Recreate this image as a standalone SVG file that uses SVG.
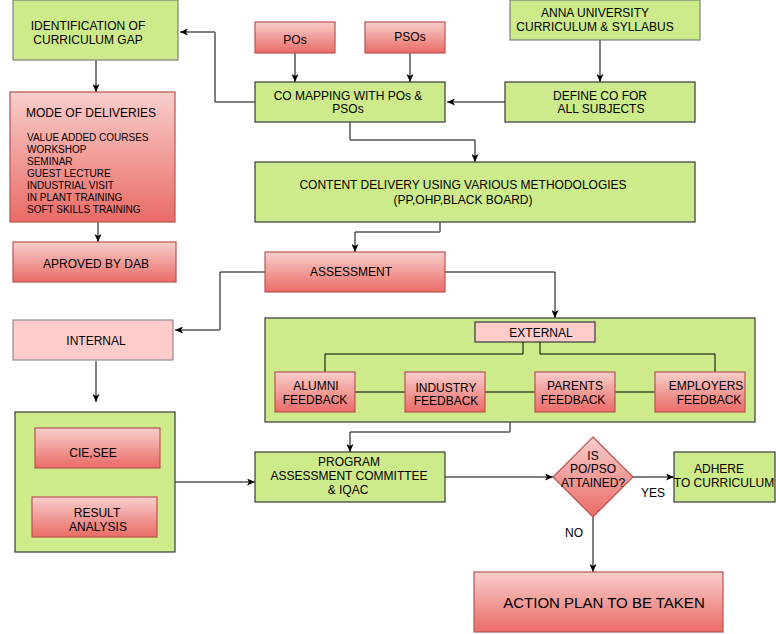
<svg xmlns="http://www.w3.org/2000/svg" width="776" height="634" viewBox="0 0 776 634">
<defs>
<linearGradient id="red" x1="0" y1="0" x2="0" y2="1">
<stop offset="0" stop-color="#f8cecc"/>
<stop offset="1" stop-color="#ea6b66"/>
</linearGradient>
<marker id="arr" viewBox="0 0 8 7" refX="8" refY="3.5" markerWidth="8" markerHeight="7" markerUnits="userSpaceOnUse" orient="auto">
<path d="M0,0 L8,3.5 L0,7 L2,3.5 z" fill="#000"/>
</marker>
</defs>
<style>
.g{fill:#cdeb8b;stroke:#36393d;stroke-width:1.2}
.gl{fill:#cdeb8b;stroke:#808080;stroke-width:1.2}
.r{fill:url(#red);stroke:#b85450;stroke-width:1.2}
.p{fill:#ffcccc;stroke:#36393d;stroke-width:1.2}
.pl{fill:#ffcccc;stroke:#8c8c8c;stroke-width:1.2}
text{font-family:"Liberation Sans",Arial,sans-serif;font-size:12px;fill:#000;text-anchor:middle}
.s{font-size:10px;text-anchor:start}
.t{text-anchor:start}
.big{font-size:15px}
.k{fill:none;stroke:#000;stroke-width:1}
.h{fill:none;stroke:#808080;stroke-width:2}
</style>
<g id="connectors">
<path class="h" d="M255,102 H215"/><path class="k" d="M215,102 V32"/><path class="h" d="M215,32 H180" marker-end="url(#arr)"/>
<path class="k" d="M96,60 V92" marker-end="url(#arr)"/>
<path class="k" d="M98,222 V242" stroke-width="2" marker-end="url(#arr)"/>
<path class="k" d="M295,53 V82" marker-end="url(#arr)"/>
<path class="k" d="M410,53 V82" marker-end="url(#arr)"/>
<path class="k" d="M600,40 V82" marker-end="url(#arr)"/>
<path class="h" d="M505,102 H447" marker-end="url(#arr)"/>
<path class="k" d="M350,122 V140"/><path class="h" d="M350,140 H475"/><path class="k" d="M475,140 V162" marker-end="url(#arr)"/>
<path class="k" d="M440,222 V232"/><path class="h" d="M440,232 H355"/><path class="k" d="M355,232 V252" marker-end="url(#arr)"/>
<path class="h" d="M445,272 H555"/><path class="k" d="M555,272 V318" marker-end="url(#arr)"/>
<path class="h" d="M265,272 H220"/><path class="k" d="M220,272 V330"/><path class="h" d="M220,330 H175" marker-end="url(#arr)"/>
<path class="k" d="M96,361 V402" marker-end="url(#arr)"/>
<path class="h" d="M175,482 H255" marker-end="url(#arr)"/>
<path class="k" d="M510,422 V432"/><path class="h" d="M510,432 H350"/><path class="k" d="M350,432 V452" marker-end="url(#arr)"/>
<path class="h" d="M445,477 H553" marker-end="url(#arr)"/>
<path class="h" d="M633,477 H674" marker-end="url(#arr)"/>
<path class="k" d="M593,517 V572" marker-end="url(#arr)"/>
</g>
<g id="identification"><rect class="gl" x="13" y="0" width="165" height="60"/><text x="88" y="30">IDENTIFICATION OF</text><text x="88" y="44">CURRICULUM GAP</text></g>
<g id="mode"><rect class="r" x="10" y="92" width="165" height="130"/>
<text class="t" x="26" y="117">MODE OF DELIVERIES</text>
<text class="s" x="27" y="141">VALUE ADDED COURSES</text>
<text class="s" x="27" y="153">WORKSHOP</text>
<text class="s" x="27" y="165">SEMINAR</text>
<text class="s" x="27" y="177">GUEST LECTURE</text>
<text class="s" x="27" y="189">INDUSTRIAL VISIT</text>
<text class="s" x="27" y="201">IN PLANT TRAINING</text>
<text class="s" x="27" y="213">SOFT SKILLS TRAINING</text></g>
<g id="aproved"><rect class="r" x="13" y="242" width="163" height="40"/><text x="96" y="268">APROVED BY DAB</text></g>
<g id="pos"><rect class="r" x="255" y="22" width="80" height="31"/><text x="295" y="44">POs</text></g>
<g id="psos"><rect class="r" x="365" y="22" width="80" height="31"/><text x="410" y="41">PSOs</text></g>
<g id="comapping"><rect class="g" x="255" y="82" width="190" height="40"/><text x="348" y="100">CO MAPPING WITH POs &amp;</text><text x="348" y="113">PSOs</text></g>
<g id="anna"><rect class="gl" x="510" y="0" width="190" height="40"/><text x="595" y="17">ANNA UNIVERSITY</text><text x="595" y="31">CURRICULUM &amp; SYLLABUS</text></g>
<g id="defineco"><rect class="g" x="505" y="82" width="190" height="40"/><text x="600" y="100">DEFINE CO FOR</text><text x="601" y="113">ALL SUBJECTS</text></g>
<g id="content"><rect class="g" x="255" y="162" width="440" height="60"/><text x="463" y="189">CONTENT DELIVERY USING VARIOUS METHODOLOGIES</text><text x="463" y="204">(PP,OHP,BLACK BOARD)</text></g>
<g id="assessment"><rect class="r" x="265" y="252" width="180" height="40"/><text x="351" y="276">ASSESSMENT</text></g>
<g id="internal"><rect class="pl" x="13" y="320" width="160" height="40"/><text x="96" y="345">INTERNAL</text></g>
<g id="internal-group"><rect class="g" x="15" y="412" width="160" height="140"/>
<g id="cie"><rect class="r" x="35" y="428" width="125" height="40"/><text x="93" y="457">CIE,SEE</text></g>
<g id="result"><rect class="r" x="32" y="497" width="125" height="40"/><text x="97" y="517">RESULT</text><text x="98" y="531">ANALYSIS</text></g></g>
<g id="external-group"><rect class="g" x="265" y="318" width="490" height="104"/>
<g id="external"><rect class="p" x="475" y="322" width="120" height="20"/><text x="541" y="337">EXTERNAL</text></g>
<g id="tree"><path class="k" d="M523,342 V354 H325 V372 M540,342 V354 H715 V372 M355,392 H405 M485,392 H535 M615,392 H655"/></g>
<g id="alumni"><rect class="r" x="275" y="372" width="80" height="40"/><text x="316" y="390">ALUMNI</text><text x="315" y="404">FEEDBACK</text></g>
<g id="industry"><rect class="r" x="405" y="372" width="80" height="40"/><text x="446" y="392">INDUSTRY</text><text x="446" y="405">FEEDBACK</text></g>
<g id="parents"><rect class="r" x="535" y="372" width="80" height="40"/><text x="575" y="390">PARENTS</text><text x="573" y="404">FEEDBACK</text></g>
<g id="employers"><rect class="r" x="655" y="372" width="90" height="40"/><text x="706" y="390">EMPLOYERS</text><text x="709" y="404">FEEDBACK</text></g></g>
<g id="program"><rect class="g" x="255" y="452" width="190" height="50"/><text x="349" y="466">PROGRAM</text><text x="349" y="480">ASSESSMENT COMMITTEE</text><text x="348" y="494">&amp; IQAC</text></g>
<g id="decision"><polygon class="r" points="593,437 633,477 593,517 553,477"/><text x="593" y="460">IS</text><text x="593" y="473">PO/PSO</text><text x="593" y="487">ATTAINED?</text></g>
<g id="adhere"><rect class="g" x="674" y="452" width="101" height="50"/><text x="719" y="473">ADHERE</text><text x="724" y="487" font-size="11.5">TO CURRICULUM</text></g>
<g id="labels"><text x="653" y="497" font-size="11">YES</text><text x="574" y="537" font-size="11">NO</text></g>
<g id="action"><rect class="r" x="474" y="572" width="249" height="60"/><text class="big" x="604" y="608">ACTION PLAN TO BE TAKEN</text></g>
</svg>
